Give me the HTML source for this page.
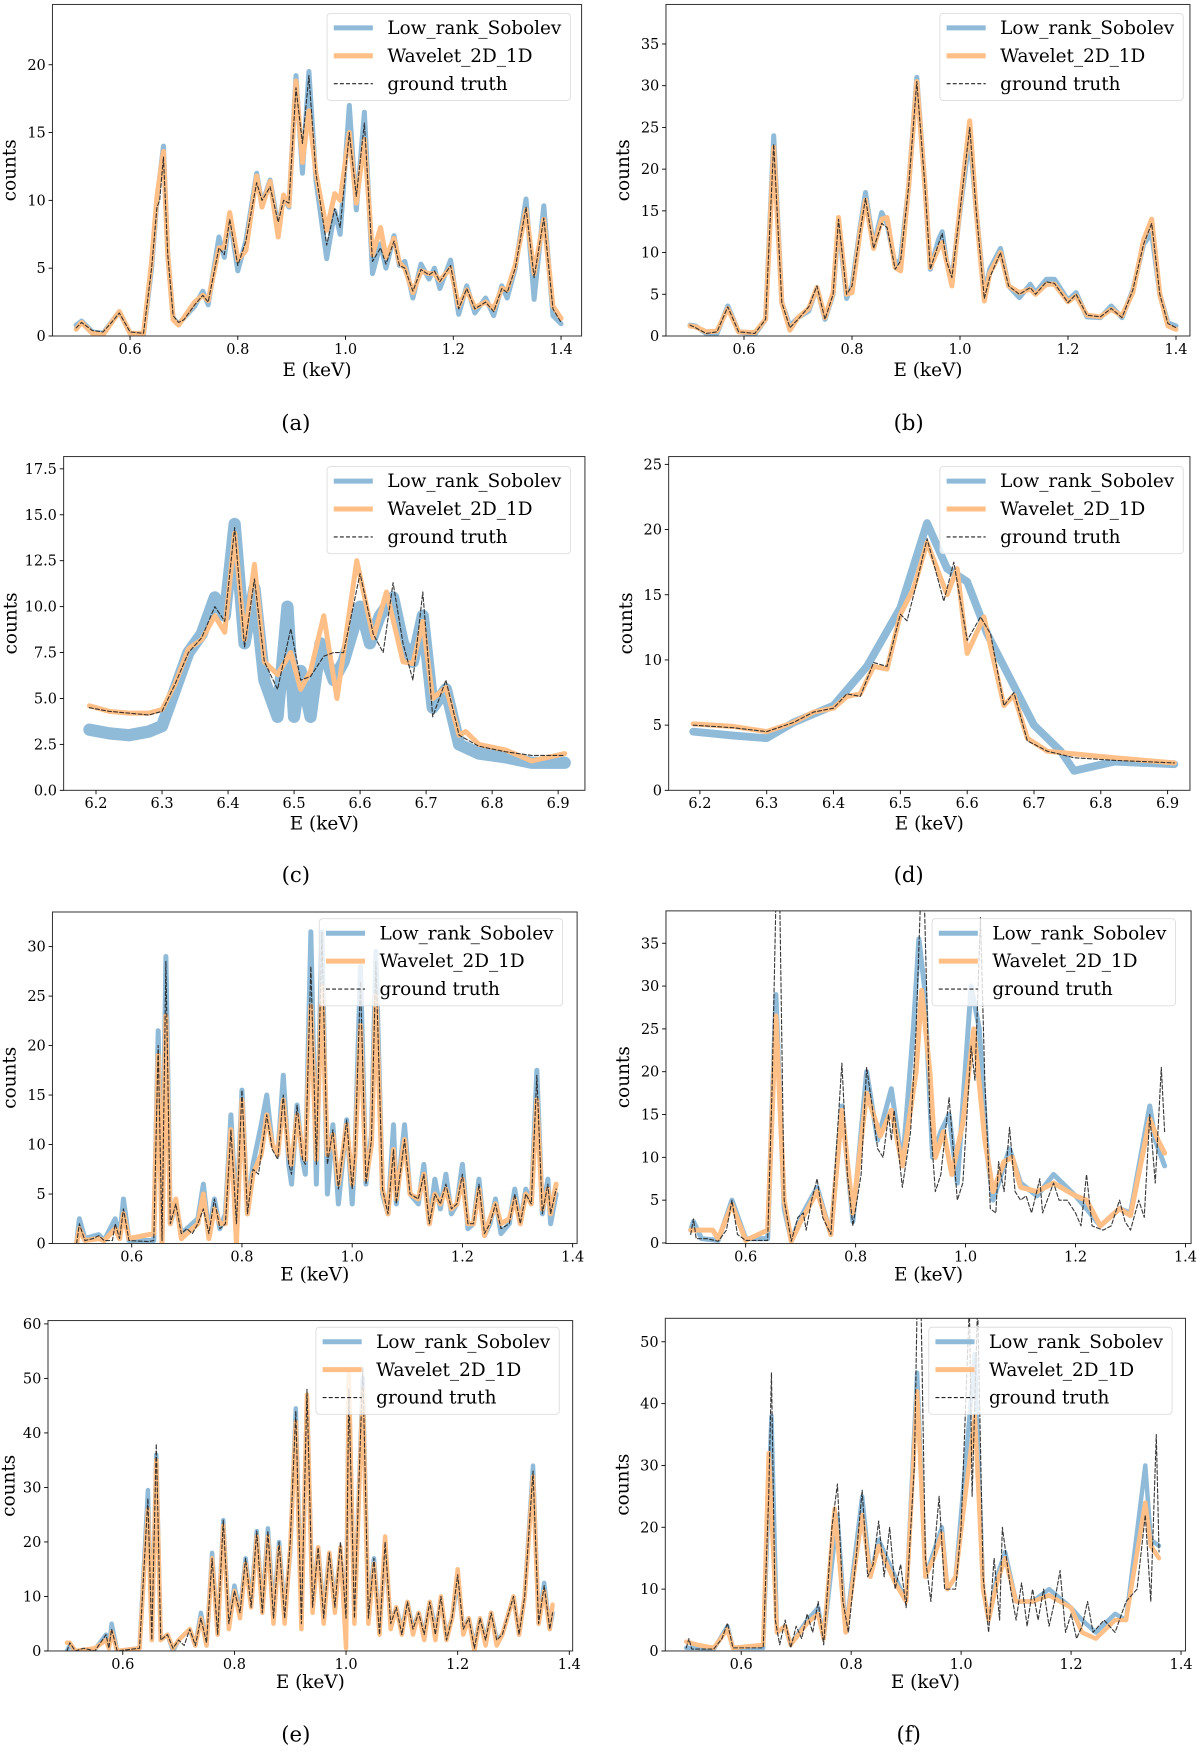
<!DOCTYPE html>
<html><head><meta charset="utf-8"><style>
html,body{margin:0;padding:0;background:#fff;}
svg{display:block;}
text{font-family:"DejaVu Serif","Liberation Serif",serif;fill:#000;}
</style></head><body>
<svg id="fig" xmlns="http://www.w3.org/2000/svg" width="1200" height="1754" viewBox="0 0 1075 1571.3" preserveAspectRatio="none"></svg>
<script>
// ---------------- data (energy keV, counts) ----------------
const aTruth=[[0.5,0.6],[0.51,1.0],[0.53,0.4],[0.55,0.3],[0.57,1.2],[0.58,1.7],[0.6,0.3],[0.625,0.2],[0.64,5],[0.65,9.5],[0.655,10],[0.662,13.2],[0.67,6],[0.68,1.5],[0.69,1.0],[0.7,1.2],[0.72,2.3],[0.735,3.0],[0.745,2.5],[0.765,6.5],[0.775,6.0],[0.785,8.6],[0.8,5.2],[0.815,7],[0.835,11.3],[0.845,10],[0.86,11],[0.875,8.4],[0.885,10],[0.895,9.8],[0.908,18.3],[0.92,14.2],[0.932,19.2],[0.945,12],[0.965,6.7],[0.98,9.4],[0.99,8.0],[1.007,15.0],[1.02,10.3],[1.035,15.7],[1.05,5.5],[1.065,6.5],[1.075,5.3],[1.09,7.0],[1.1,5.2],[1.11,5.0],[1.125,3.3],[1.14,4.9],[1.155,4.5],[1.165,4.8],[1.175,4.0],[1.195,5.2],[1.21,2.0],[1.225,3.5],[1.24,2.0],[1.26,2.5],[1.275,1.8],[1.29,3.5],[1.3,3.2],[1.315,5],[1.335,9.5],[1.35,4.3],[1.368,8.7],[1.385,2],[1.4,1.0]];
const aLowRank=[[0.5,0.8],[0.51,1.1],[0.53,0.3],[0.55,0.2],[0.58,1.8],[0.6,0.2],[0.625,0.1],[0.64,5],[0.65,10],[0.662,14],[0.67,6],[0.68,1.3],[0.69,0.9],[0.72,2.2],[0.735,3.3],[0.745,2.3],[0.765,7.3],[0.775,5.8],[0.785,8.8],[0.8,4.8],[0.815,7],[0.835,12],[0.845,9.7],[0.86,11.5],[0.875,8],[0.885,10.2],[0.895,9.5],[0.908,19.2],[0.92,12],[0.932,19.5],[0.945,11.5],[0.965,5.7],[0.98,9.2],[0.99,7.5],[1.007,17],[1.02,9.3],[1.035,16.5],[1.05,4.6],[1.065,6.8],[1.075,5],[1.09,7.4],[1.1,5.2],[1.11,5.5],[1.125,2.8],[1.14,5.3],[1.155,4.2],[1.165,5],[1.175,3.5],[1.195,5.6],[1.21,1.6],[1.225,3.7],[1.24,1.7],[1.26,2.8],[1.275,1.5],[1.29,3.7],[1.3,2.8],[1.315,5],[1.335,10.1],[1.35,2.7],[1.368,9.6],[1.385,1.5],[1.4,0.9]];
const aWavelet=[[0.5,0.5],[0.51,1.0],[0.53,0.2],[0.55,0.1],[0.58,1.8],[0.6,0.2],[0.625,0.2],[0.64,5.5],[0.65,10.3],[0.662,13.6],[0.67,6],[0.68,1.2],[0.69,0.8],[0.72,2.5],[0.735,3.0],[0.745,2.6],[0.765,6.5],[0.775,6.5],[0.785,9.1],[0.8,5.6],[0.815,6.3],[0.835,11.8],[0.845,9.5],[0.86,11.4],[0.875,7.3],[0.885,10.4],[0.895,9.6],[0.908,18.8],[0.92,12.8],[0.932,16.6],[0.945,12],[0.965,7.8],[0.98,10.5],[0.99,10],[1.007,15],[1.02,9.8],[1.035,14.5],[1.05,6],[1.065,8],[1.075,5.8],[1.09,7.2],[1.1,5.4],[1.11,5],[1.125,3.2],[1.14,4.8],[1.155,4.6],[1.165,4.6],[1.175,4.1],[1.195,5],[1.21,2.2],[1.225,3.4],[1.24,2.1],[1.26,2.5],[1.275,2],[1.29,3.5],[1.3,3.4],[1.315,5.2],[1.335,9.3],[1.35,4.6],[1.368,8.6],[1.385,2.2],[1.4,1.3]];

const bTruth=[[0.5,1.3],[0.51,1.0],[0.53,0.3],[0.55,0.5],[0.57,3.5],[0.59,0.5],[0.62,0.3],[0.64,2],[0.655,23],[0.67,4],[0.685,1],[0.7,2],[0.72,3.5],[0.735,6],[0.75,2],[0.765,5],[0.775,14],[0.79,5],[0.8,6],[0.815,12.5],[0.825,16.5],[0.84,10.5],[0.855,13.5],[0.865,13],[0.88,8],[0.89,9],[0.905,18],[0.92,30.5],[0.935,18],[0.945,8],[0.96,11],[0.967,12.3],[0.975,9],[0.985,7],[1.0,15],[1.018,25],[1.03,15],[1.045,4.5],[1.055,7],[1.075,10],[1.09,6],[1.11,5],[1.13,5.8],[1.14,5],[1.16,6.5],[1.175,6.3],[1.2,4],[1.215,5],[1.235,2.5],[1.26,2.3],[1.28,3.3],[1.3,2.2],[1.32,5.5],[1.34,11],[1.355,13.5],[1.37,5],[1.385,1.5],[1.4,1]];
const bLowRank=[[0.5,1.3],[0.51,1.2],[0.53,0.3],[0.55,0.3],[0.57,3.6],[0.59,0.5],[0.62,0.2],[0.64,2],[0.655,24],[0.67,4],[0.685,1.2],[0.7,2.2],[0.72,3],[0.735,5.8],[0.75,2],[0.765,5],[0.775,13.5],[0.79,4.5],[0.8,6],[0.815,13],[0.825,17.2],[0.84,10.8],[0.855,14.8],[0.865,13.5],[0.88,8.5],[0.89,9.2],[0.905,18],[0.92,31],[0.935,18],[0.945,8],[0.96,11.5],[0.967,12.5],[0.975,9],[0.985,6.8],[1.0,15],[1.018,24],[1.03,15],[1.045,5],[1.055,8],[1.075,10.5],[1.09,6],[1.11,4.6],[1.13,6.2],[1.14,5.2],[1.16,6.8],[1.175,6.8],[1.2,4.3],[1.215,5.2],[1.235,2.3],[1.26,2.2],[1.28,3.6],[1.3,2.2],[1.32,5.5],[1.34,11],[1.355,12.3],[1.37,5],[1.385,1.6],[1.4,1.2]];
const bWavelet=[[0.5,1.2],[0.51,1.1],[0.53,0.5],[0.55,0.6],[0.57,3.3],[0.59,0.5],[0.62,0.4],[0.64,2],[0.655,22.6],[0.67,4],[0.685,0.7],[0.7,2.2],[0.72,3.3],[0.735,5.8],[0.75,2.2],[0.765,5.2],[0.775,14.2],[0.79,5],[0.8,5.2],[0.815,12.5],[0.825,16.3],[0.84,10.5],[0.855,14],[0.865,14.2],[0.88,8.2],[0.89,7.8],[0.905,18],[0.92,30.5],[0.935,18],[0.945,8.2],[0.96,10.5],[0.967,11.2],[0.975,9],[0.985,6],[1.0,15.5],[1.018,25.8],[1.03,15],[1.045,4.2],[1.055,7.5],[1.075,10],[1.09,6],[1.11,5.2],[1.13,5.6],[1.14,5],[1.16,6.2],[1.175,6.2],[1.2,4.1],[1.215,4.8],[1.235,2.5],[1.26,2.3],[1.28,3.2],[1.3,2.4],[1.32,5.2],[1.34,11.5],[1.355,14],[1.37,5],[1.385,1.2],[1.4,0.8]];

const cTruth=[[6.19,4.5],[6.22,4.3],[6.25,4.2],[6.28,4.1],[6.3,4.3],[6.32,5.8],[6.34,7.5],[6.36,8.3],[6.38,10],[6.395,9.2],[6.41,14.3],[6.425,7.8],[6.44,11.5],[6.455,7],[6.475,5.5],[6.495,8.8],[6.51,6],[6.525,6.2],[6.545,7.3],[6.56,7.5],[6.575,7.5],[6.6,11.8],[6.62,8.5],[6.635,7.5],[6.65,11.3],[6.665,8],[6.68,6],[6.695,10.8],[6.71,4],[6.73,6],[6.75,3],[6.76,2.8],[6.78,2.4],[6.82,2.1],[6.86,1.9],[6.91,1.9]];
const cLowRank=[[6.19,3.3],[6.22,3.1],[6.25,3.0],[6.28,3.2],[6.3,3.5],[6.32,5.5],[6.34,7.5],[6.36,8.5],[6.38,10.5],[6.395,9.5],[6.41,14.5],[6.425,8],[6.44,11],[6.455,6],[6.475,4],[6.49,10],[6.5,4],[6.51,6.5],[6.525,4],[6.54,8],[6.56,6],[6.575,7],[6.6,10],[6.615,8],[6.63,9.5],[6.65,10.5],[6.665,8],[6.68,7],[6.695,9.5],[6.71,4.5],[6.73,5.5],[6.75,2.5],[6.78,2],[6.82,1.8],[6.86,1.5],[6.91,1.5]];
const cWavelet=[[6.19,4.6],[6.22,4.3],[6.25,4.2],[6.28,4.2],[6.3,4.4],[6.32,5.8],[6.34,7.7],[6.36,8.2],[6.38,9.5],[6.395,8.6],[6.41,14],[6.425,8.2],[6.44,12.3],[6.455,7],[6.475,6.3],[6.495,7.5],[6.51,5.5],[6.525,6.5],[6.545,9.5],[6.565,5],[6.595,12.5],[6.62,8.3],[6.64,10.8],[6.665,7],[6.68,6.9],[6.695,9.2],[6.71,5],[6.73,5.6],[6.75,3],[6.76,3.2],[6.78,2.5],[6.82,2.2],[6.86,1.6],[6.91,2.0]];

const dTruth=[[6.19,5],[6.25,4.8],[6.3,4.5],[6.34,5.2],[6.37,6],[6.4,6.3],[6.42,7.4],[6.44,7.2],[6.46,9.8],[6.48,9.5],[6.5,13.5],[6.51,13],[6.52,15],[6.54,19.3],[6.565,14.5],[6.58,17.5],[6.6,11.5],[6.62,13.3],[6.635,12],[6.655,6.5],[6.67,7.5],[6.69,3.8],[6.72,3],[6.76,2.5],[6.82,2.3],[6.91,2.1]];
const dLowRank=[[6.19,4.5],[6.25,4.2],[6.3,4.0],[6.34,5.2],[6.4,6.5],[6.45,9.5],[6.5,14],[6.54,20.5],[6.57,17],[6.6,16],[6.63,12],[6.67,8],[6.7,5],[6.74,3],[6.76,1.5],[6.82,2.2],[6.91,2.0]];
const dWavelet=[[6.19,5.1],[6.25,4.9],[6.3,4.5],[6.34,5.2],[6.37,6],[6.4,6.3],[6.42,7.2],[6.44,7.4],[6.46,9.5],[6.48,9.3],[6.5,13.5],[6.52,15.5],[6.54,19],[6.57,15],[6.585,17],[6.6,10.5],[6.625,13.3],[6.655,6.5],[6.67,7.3],[6.69,4],[6.72,3],[6.76,2.8],[6.82,2.5],[6.91,2.1]];

const eTruth=[[0.5,0],[0.505,2],[0.515,0.3],[0.53,0.5],[0.54,0.8],[0.55,0.3],[0.565,0.3],[0.57,2],[0.578,0.5],[0.585,3.5],[0.595,0.3],[0.63,0.2],[0.64,0.3],[0.648,20],[0.655,0.3],[0.662,28.5],[0.67,2],[0.68,4],[0.69,1],[0.7,1.5],[0.71,1],[0.72,2],[0.73,3.5],[0.74,1],[0.75,4.5],[0.76,1.5],[0.77,2],[0.78,11.5],[0.79,2],[0.8,15.5],[0.81,3],[0.82,7.5],[0.83,7],[0.835,9],[0.845,13],[0.855,9.5],[0.865,8.5],[0.875,15],[0.885,8],[0.89,7],[0.9,14],[0.91,8.5],[0.915,8],[0.925,28],[0.935,8],[0.945,31.5],[0.955,8],[0.965,11.5],[0.975,5.5],[0.99,12.5],[1.0,5.5],[1.005,9],[1.015,26.5],[1.025,6],[1.035,10.5],[1.043,28.5],[1.055,5.5],[1.065,3],[1.075,9.5],[1.08,4],[1.095,10.5],[1.105,5],[1.12,4.5],[1.13,7],[1.14,2],[1.15,5],[1.16,4],[1.17,6],[1.18,3.5],[1.19,4],[1.2,7],[1.21,2],[1.22,2],[1.23,6],[1.24,1],[1.25,2],[1.26,4],[1.27,1.5],[1.285,2],[1.295,5],[1.305,2],[1.315,5],[1.325,4],[1.335,17],[1.345,3],[1.355,6],[1.36,3],[1.37,5.5]];
const eLowRank=[[0.5,0],[0.505,2.5],[0.515,0.5],[0.54,0.9],[0.55,0.3],[0.57,2.5],[0.578,0.5],[0.585,4.5],[0.595,0.3],[0.64,0.3],[0.648,21.5],[0.655,0.5],[0.662,29],[0.67,2],[0.68,4],[0.69,1],[0.72,2.5],[0.73,6],[0.74,1],[0.75,4.5],[0.76,1.5],[0.77,3],[0.78,13],[0.79,2],[0.8,15.5],[0.81,3],[0.82,8],[0.835,12],[0.845,15],[0.855,10],[0.865,9],[0.875,17],[0.885,8],[0.89,6],[0.9,14],[0.91,8.5],[0.915,7],[0.925,31.5],[0.935,6],[0.945,31.5],[0.955,5],[0.965,12],[0.975,4],[0.99,12.5],[1.0,4],[1.005,9],[1.015,28],[1.025,6],[1.035,11],[1.043,29.5],[1.055,5],[1.065,3],[1.075,12],[1.08,4],[1.095,12],[1.105,5],[1.12,4],[1.13,8],[1.14,2],[1.15,6.5],[1.16,3.5],[1.17,7],[1.18,3],[1.19,4],[1.2,8],[1.21,1.5],[1.22,2],[1.23,6.5],[1.24,0.8],[1.25,2],[1.26,4.5],[1.27,1],[1.285,2],[1.295,5.5],[1.305,2],[1.315,5.5],[1.325,4],[1.335,17.5],[1.345,3],[1.355,6.5],[1.36,2],[1.37,5]];
const eWavelet=[[0.5,0],[0.505,1.5],[0.515,0.3],[0.54,0.5],[0.55,0.3],[0.57,1.5],[0.578,0.5],[0.585,3],[0.595,0.5],[0.64,1],[0.648,19],[0.655,0],[0.662,23],[0.67,2],[0.68,4.5],[0.69,0.5],[0.72,2],[0.73,5],[0.74,0.5],[0.75,3.5],[0.76,2],[0.77,2],[0.78,11.5],[0.79,0],[0.8,14.5],[0.81,3],[0.82,7],[0.835,9],[0.845,13],[0.855,10],[0.865,9],[0.875,14.5],[0.885,9],[0.89,8],[0.9,13],[0.91,9],[0.915,8.5],[0.925,24],[0.935,8.5],[0.945,26],[0.955,9],[0.965,11],[0.975,6],[0.99,12],[1.0,6],[1.005,9],[1.015,22],[1.025,6.5],[1.035,10],[1.043,25],[1.055,5.5],[1.065,3],[1.075,9.5],[1.08,4.5],[1.095,10.5],[1.105,5],[1.12,4.5],[1.13,7],[1.14,2],[1.15,5],[1.16,4],[1.17,5.5],[1.18,3.5],[1.19,4],[1.2,6.5],[1.21,2],[1.22,2],[1.23,5.5],[1.24,0.8],[1.25,2.5],[1.26,4],[1.27,2],[1.285,2.5],[1.295,4.5],[1.305,2],[1.315,5],[1.325,4],[1.335,14.5],[1.345,3.5],[1.355,5.5],[1.36,3],[1.37,6]];

const fTruth=[[0.5,1],[0.505,2.8],[0.51,0.5],[0.53,0.5],[0.55,0.2],[0.565,1.5],[0.575,5],[0.585,1],[0.6,0.3],[0.64,0.3],[0.648,18],[0.655,40],[0.662,40],[0.67,5],[0.683,0.2],[0.695,3],[0.705,3.5],[0.71,1.5],[0.72,5],[0.73,7.5],[0.74,3],[0.755,1],[0.765,11],[0.775,21],[0.785,8],[0.795,2],[0.81,8],[0.82,20.5],[0.83,16],[0.84,11],[0.85,10],[0.86,15],[0.865,12],[0.87,15.5],[0.885,6.5],[0.9,13],[0.91,25],[0.918,40],[0.925,40],[0.935,15],[0.945,6],[0.955,8],[0.97,17],[0.985,5],[0.995,7],[1.01,23],[1.017,19],[1.027,38],[1.035,19],[1.045,4],[1.055,3.5],[1.06,9.5],[1.07,6],[1.08,13.5],[1.09,6],[1.1,5],[1.11,5.5],[1.12,3.5],[1.135,7.5],[1.14,3.5],[1.16,7],[1.17,5],[1.185,5],[1.2,3.5],[1.21,2],[1.22,8],[1.23,2],[1.25,1.5],[1.265,2],[1.28,5],[1.29,2.5],[1.3,1.5],[1.315,5],[1.325,3],[1.335,15],[1.345,7],[1.356,20.5],[1.362,13]];
const fLowRank=[[0.5,1.5],[0.505,2.5],[0.52,0.5],[0.55,0.3],[0.575,5],[0.6,0.5],[0.64,0.5],[0.655,29],[0.67,4],[0.683,0.3],[0.7,3],[0.73,6.5],[0.755,1],[0.775,16],[0.795,2.5],[0.82,20],[0.84,12],[0.865,18],[0.885,9],[0.905,25],[0.915,35.5],[0.925,30],[0.94,10],[0.955,13],[0.97,15],[0.985,7],[1.01,30],[1.025,25],[1.04,10],[1.05,5],[1.065,8],[1.08,11],[1.1,7],[1.13,5.5],[1.16,8],[1.2,5.5],[1.22,4],[1.245,2],[1.28,4],[1.3,3.5],[1.335,16],[1.345,12],[1.362,9]];
const fWavelet=[[0.5,1.5],[0.54,1.5],[0.55,0.5],[0.575,4.5],[0.6,0.3],[0.64,1.5],[0.655,26.5],[0.67,5],[0.683,0.2],[0.7,2.5],[0.73,6],[0.755,1],[0.775,15.5],[0.795,3.5],[0.82,17.5],[0.845,12.5],[0.865,15.5],[0.885,9],[0.91,20],[0.92,29.5],[0.935,20],[0.945,10],[0.96,13],[0.975,8],[0.995,14],[1.015,25],[1.035,12],[1.05,6],[1.07,9.5],[1.085,10],[1.1,6.5],[1.13,6],[1.16,7],[1.2,5.5],[1.22,5],[1.245,2],[1.28,4],[1.3,3.2],[1.335,14.5],[1.35,12],[1.362,10.5]];

const gTruth=[[0.5,0],[0.505,1.5],[0.515,0],[0.53,0.5],[0.55,0],[0.57,3],[0.575,0.5],[0.58,4],[0.59,0],[0.63,0.5],[0.645,28],[0.652,2],[0.66,38],[0.668,2],[0.68,3],[0.69,0.5],[0.7,2],[0.71,1],[0.72,4],[0.73,1],[0.74,6],[0.75,1.5],[0.76,17],[0.77,3],[0.78,24],[0.79,5],[0.8,11],[0.81,7],[0.82,17],[0.83,8],[0.84,22],[0.85,7],[0.86,22],[0.87,6],[0.88,20],[0.89,6],[0.9,20],[0.91,44],[0.92,5],[0.93,48],[0.94,8],[0.95,19],[0.96,6],[0.97,18],[0.98,8],[0.99,20],[1.0,6],[1.005,48],[1.015,6],[1.03,52],[1.04,6],[1.05,17],[1.06,3],[1.07,20],[1.08,5],[1.09,8],[1.1,3],[1.11,9],[1.12,4],[1.13,7],[1.14,3],[1.15,9],[1.16,3],[1.17,10],[1.18,2],[1.19,6],[1.2,14],[1.21,4],[1.22,6],[1.23,0.5],[1.24,6],[1.25,2],[1.26,7],[1.27,2],[1.28,3],[1.3,10],[1.31,3],[1.32,10],[1.335,33],[1.345,5],[1.355,12],[1.365,4],[1.37,7]];
const gLowRank=[[0.5,0],[0.505,1],[0.515,0],[0.55,0.3],[0.57,3],[0.575,0.5],[0.58,5],[0.59,0],[0.63,0.5],[0.645,29.5],[0.652,2],[0.66,36],[0.668,2],[0.68,3],[0.69,0],[0.7,2],[0.72,4],[0.73,1],[0.74,7],[0.75,1],[0.76,18],[0.77,3],[0.78,24],[0.79,5],[0.8,12],[0.81,7],[0.82,17],[0.83,9],[0.84,22],[0.85,8],[0.86,22.5],[0.87,7],[0.88,20],[0.89,7],[0.9,18],[0.91,44.5],[0.92,6],[0.93,46],[0.94,9],[0.95,19],[0.96,7],[0.97,18],[0.98,9],[0.99,18],[1.0,6],[1.005,49],[1.015,6],[1.03,50],[1.04,7],[1.05,17],[1.06,4],[1.07,19],[1.08,5],[1.09,8],[1.1,4],[1.11,9],[1.12,4],[1.13,7],[1.14,3],[1.15,9],[1.16,4],[1.17,9],[1.18,3],[1.19,6],[1.2,13],[1.21,4],[1.22,6],[1.23,1],[1.24,6],[1.25,2],[1.26,7],[1.27,2],[1.28,3],[1.3,10],[1.31,3],[1.32,10],[1.335,34],[1.345,5],[1.355,12.5],[1.365,4],[1.37,7]];
const gWavelet=[[0.5,1.5],[0.505,1.5],[0.515,0],[0.55,0.5],[0.57,2],[0.575,0.5],[0.58,3.5],[0.59,0],[0.63,0.5],[0.645,26],[0.652,2],[0.66,35],[0.668,2],[0.68,3],[0.69,0.5],[0.7,2],[0.72,4],[0.73,1],[0.74,6],[0.75,1],[0.76,17],[0.77,3],[0.78,23],[0.79,4],[0.8,11],[0.81,6],[0.82,16],[0.83,8],[0.84,21],[0.85,7],[0.86,21],[0.87,5],[0.88,19],[0.89,5],[0.9,19],[0.91,42],[0.92,4],[0.93,47],[0.94,7],[0.95,19],[0.96,5],[0.97,18],[0.98,7],[0.99,19],[1.0,0.5],[1.005,51],[1.015,5],[1.03,48],[1.04,5],[1.05,16],[1.06,3],[1.07,21],[1.08,4],[1.09,8],[1.1,3],[1.11,9],[1.12,3],[1.13,7],[1.14,2],[1.15,9],[1.16,2],[1.17,10],[1.18,2],[1.19,6],[1.2,15],[1.21,3],[1.22,6],[1.23,0],[1.24,6],[1.25,1],[1.26,7],[1.27,1],[1.28,3],[1.3,10],[1.31,3],[1.32,10],[1.335,32],[1.345,5],[1.355,11],[1.365,4],[1.37,8.5]];

const hTruth=[[0.5,0.5],[0.505,2],[0.51,0.3],[0.55,0.3],[0.565,2],[0.575,4.5],[0.585,0.5],[0.64,0.5],[0.65,25],[0.655,45],[0.662,5],[0.67,1],[0.68,5],[0.69,0.5],[0.7,4],[0.71,2],[0.72,6],[0.73,3],[0.74,8],[0.75,1],[0.765,20],[0.775,27],[0.785,8],[0.795,3],[0.81,16],[0.82,26],[0.83,12],[0.84,14],[0.85,21],[0.86,12],[0.87,20],[0.88,10],[0.89,14],[0.9,7],[0.915,30],[0.92,56],[0.927,56],[0.935,15],[0.945,8],[0.955,20],[0.96,25],[0.97,10],[0.99,10],[1.0,20],[1.015,56],[1.02,25],[1.03,56],[1.04,12],[1.05,3],[1.06,15],[1.07,5],[1.075,20],[1.09,10],[1.1,5],[1.11,11],[1.12,4],[1.13,10],[1.14,5],[1.15,10],[1.16,4],[1.17,8],[1.18,13],[1.19,3],[1.2,6],[1.21,2],[1.22,4],[1.23,8],[1.24,3],[1.26,5],[1.28,3],[1.3,8],[1.32,10],[1.335,22],[1.345,8],[1.355,35],[1.36,16]];
const hLowRank=[[0.5,0.5],[0.52,0.5],[0.55,0.3],[0.575,4],[0.585,0.5],[0.64,0.5],[0.655,38],[0.665,3],[0.68,4],[0.69,1],[0.72,5],[0.74,7],[0.75,2],[0.775,22],[0.79,3],[0.82,25],[0.835,12],[0.85,18],[0.865,15],[0.88,12],[0.9,8],[0.92,45],[0.935,12],[0.95,16],[0.965,20],[0.975,10],[0.99,12],[1.025,48],[1.04,10],[1.05,5],[1.065,12],[1.08,16],[1.1,8],[1.13,8],[1.16,10],[1.2,7],[1.22,5],[1.245,3],[1.28,6],[1.3,5],[1.335,30],[1.345,18],[1.36,17]];
const hWavelet=[[0.5,1.5],[0.52,1],[0.55,0.5],[0.575,3.5],[0.585,0.5],[0.64,1],[0.65,32],[0.665,3],[0.68,4],[0.69,1],[0.72,4.5],[0.74,6],[0.75,2],[0.77,23],[0.79,3],[0.82,22],[0.835,12],[0.85,17],[0.865,14],[0.88,11],[0.9,8],[0.92,42],[0.935,12],[0.95,15],[0.965,19],[0.975,10],[0.99,12],[1.025,38],[1.04,10],[1.05,5],[1.065,11],[1.08,15],[1.1,8],[1.13,8],[1.16,9],[1.2,7],[1.22,3],[1.245,2],[1.28,5],[1.3,5],[1.335,24],[1.345,17],[1.36,15]];

// tick values
const keVTicksLow=[0.6,0.8,1.0,1.2,1.4];
const keVTicksFe=[6.2,6.3,6.4,6.5,6.6,6.7,6.8,6.9];
const aYTicks=[0,5,10,15,20];
const bYTicks=[0,5,10,15,20,25,30,35];
const cYTicks=[0,2.5,5,7.5,10,12.5,15,17.5];
const dYTicks=[0,5,10,15,20,25];
const eYTicks=[0,5,10,15,20,25,30];
const fYTicks=[0,5,10,15,20,25,30,35];
const gYTicks=[0,10,20,30,40,50,60];
const hYTicks=[0,10,20,30,40,50];
const legendLabels=["Low_rank_Sobolev","Wavelet_2D_1D","ground truth"];
</script>
<script>
const NS="http://www.w3.org/2000/svg";
const svg=document.getElementById('fig');
function mk(tag,attrs,parent){const e=document.createElementNS(NS,tag);for(const k in attrs)e.setAttribute(k,attrs[k]);(parent||svg).appendChild(e);return e;}

const panels=[
 {key:'a',box:[47,4,521,301],x:[0.6,116.5,1.4,502.6],y:[0,301,20,58],xt:keVTicksLow,xf:1,yt:aYTicks,yf:0,d:[aLowRank,aWavelet,aTruth],leg:[293,12],cap:'(a)',capY:385,xl:337,lw:[4.5,4.5]},
 {key:'b',box:[596.6,4,1066,301],x:[0.6,666.5,1.4,1053.5],y:[0,301,35,39.4],xt:keVTicksLow,xf:1,yt:bYTicks,yf:0,d:[bLowRank,bWavelet,bTruth],leg:[842,12],cap:'(b)',capY:385,xl:337,lw:[4.5,4.5]},
 {key:'c',box:[57,409,524,708],x:[6.2,86,6.9,500],y:[0,708,17.5,420],xt:keVTicksFe,xf:1,yt:cYTicks,yf:1,d:[cLowRank,cWavelet,cTruth],leg:[293,418],cap:'(c)',capY:790,xl:743,lw:[11,4.5]},
 {key:'d',box:[599,409,1066,708],x:[6.2,627,6.9,1046],y:[0,708,25,416],xt:keVTicksFe,xf:1,yt:dYTicks,yf:0,d:[dLowRank,dWavelet,dTruth],leg:[842,418],cap:'(d)',capY:790,xl:743,lw:[7,4.5]},
 {key:'e',box:[47,817,517,1114],x:[0.6,118,1.4,513],y:[0,1114,30,848],xt:keVTicksLow,xf:1,yt:eYTicks,yf:0,d:[eLowRank,eWavelet,eTruth],leg:[286,823],cap:null,xl:1147,lw:[4.5,4.5]},
 {key:'f',box:[596.6,816,1067,1114],x:[0.6,668,1.4,1062],y:[0,1113.5,35,845],xt:keVTicksLow,xf:1,yt:fYTicks,yf:0,d:[fLowRank,fWavelet,fTruth],leg:[835,823],cap:null,xl:1147,lw:[4.5,4.5]},
 {key:'g',box:[43,1183,513,1479],x:[0.6,110,1.4,510],y:[0,1479,60,1186],xt:keVTicksLow,xf:1,yt:gYTicks,yf:0,d:[gLowRank,gWavelet,gTruth],leg:[283,1189],cap:'(e)',capY:1560,xl:1512,lw:[4,4]},
 {key:'h',box:[596,1181,1062,1479],x:[0.6,664,1.4,1058],y:[0,1479,50,1202],xt:keVTicksLow,xf:1,yt:hYTicks,yf:0,d:[hLowRank,hWavelet,hTruth],leg:[832,1189],cap:'(f)',capY:1560,xl:1512,lw:[4,4]}
];
const colors=['#8fbbd9','#ffbf86'];

panels.forEach(p=>{
 const [l,t,r,b]=p.box;
 const sx=v=>p.x[1]+(v-p.x[0])*(p.x[3]-p.x[1])/(p.x[2]-p.x[0]);
 const sy=v=>p.y[1]+(v-p.y[0])*(p.y[3]-p.y[1])/(p.y[2]-p.y[0]);
 const g=mk('g',{});
 
 
 const cp=mk('clipPath',{id:'clip-'+p.key},g);
 mk('rect',{x:l,y:t,width:r-l,height:b-t},cp);
 const plot=mk('g',{'clip-path':'url(#clip-'+p.key+')'},g);
 const names=['low-rank-sobolev-line','wavelet-2d-1d-line','ground-truth-line'];
 p.d.forEach((ser,i)=>{
  const pts=ser.map(q=>sx(q[0]).toFixed(2)+','+sy(q[1]).toFixed(2)).join(' ');
  const attrs={points:pts,fill:'none','stroke-linejoin':'round','stroke-linecap':'round'};
  if(i<2){attrs.stroke=colors[i];attrs['stroke-width']=p.lw[i];}
  else{attrs.stroke='#222';attrs['stroke-width']=1;attrs['stroke-dasharray']='3.5,2';attrs['stroke-opacity']=0.9;}
  const pl=mk('polyline',attrs,plot);
  
  
 });
 const fr=mk('rect',{x:l,y:t,width:r-l,height:b-t,fill:'none',stroke:'#333','stroke-width':0.9},g);
 
 
 p.xt.forEach(v=>{
  const x=sx(v);
  mk('line',{x1:x,x2:x,y1:b,y2:b+3.5,stroke:'#000','stroke-width':0.8},g);
  const tx=mk('text',{x:x,y:b+16,'text-anchor':'middle','font-size':13},g);
  tx.textContent=v.toFixed(p.xf);
  
  
 });
 p.yt.forEach(v=>{
  const y=sy(v);
  mk('line',{x1:l-3.5,x2:l,y1:y,y2:y,stroke:'#000','stroke-width':0.8},g);
  const tx=mk('text',{x:l-6,y:y+4.5,'text-anchor':'end','font-size':13},g);
  tx.textContent=v.toFixed(p.yf);
  
  
 });
 const xl=mk('text',{x:(l+r)/2,y:p.xl,'text-anchor':'middle','font-size':16.5},g);
 xl.textContent='E (keV)';
 
 
 const yx=l-(p.key==='c'?42:(p.key==='g'?30:33)), yc=(t+b)/2;
 const yl=mk('text',{x:yx,y:yc,'text-anchor':'middle','font-size':16.5,transform:'rotate(-90 '+yx+' '+yc+')'},g);
 yl.textContent='counts';
 
 
 const [lx,ly]=p.leg;
 const lg=mk('g',{},g);
 
 
 mk('rect',{x:lx,y:ly,width:218,height:78,rx:3,fill:'#fff','fill-opacity':0.8,stroke:'#ddd','stroke-width':0.8},lg);
 legendLabels.forEach((lab,i)=>{
  const yy=ly+13+i*25;
  const la={x1:lx+6,x2:lx+41,y1:yy,y2:yy};
  if(i<2){la.stroke=colors[i];la['stroke-width']=4.5;}else{la.stroke='#222';la['stroke-width']=1;la['stroke-dasharray']='3.5,2';}
  mk('line',la,lg);
  const tx=mk('text',{x:lx+54,y:yy+5.5,'font-size':16.5},lg);
  tx.textContent=lab;
  
  
 });
 if(p.cap){
  const c=mk('text',{x:(p.key==='a'||p.key==='c'||p.key==='g')?265:814,y:p.capY,'text-anchor':'middle','font-size':19,'font-family':'Liberation Serif, serif'},g);
  c.textContent=p.cap;
  
  
 }
});
</script>
</body></html>
